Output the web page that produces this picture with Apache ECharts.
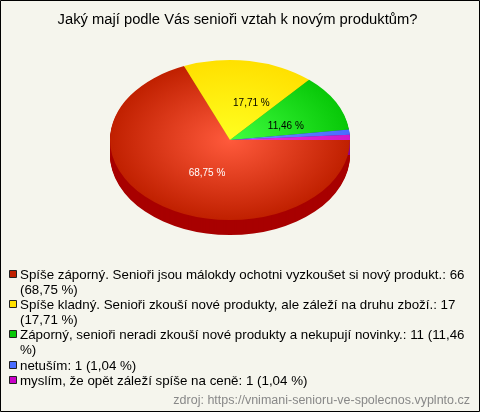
<!DOCTYPE html>
<html>
<head>
<meta charset="utf-8">
<style>html,body{margin:0;padding:0;background:#f5f5ed}#c{width:480px;height:412px}</style>
<script src="https://cdn.jsdelivr.net/npm/echarts@6/dist/echarts.min.js"></script>
</head>
<body>
<div id="c"></div>
<script>
const titleText = 'Jaký mají podle Vás senioři vztah k novým produktům?';
const sourceText = 'zdroj: https://vnimani-senioru-ve-spolecnos.vyplnto.cz';
const values = [66, 17, 11, 1, 1];
const sliceLabels = ['68,75 %', '17,71 %', '11,46 %', '', ''];
const legendLines = [
  ['Spíše záporný. Senioři jsou málokdy ochotni vyzkoušet si nový produkt.: 66', '(68,75 %)'],
  ['Spíše kladný. Senioři zkouší nové produkty, ale záleží na druhu zboží.: 17', '(17,71 %)'],
  ['Záporný, senioři neradi zkouší nové produkty a nekupují novinky.: 11 (11,46', '%)'],
  ['netuším: 1 (1,04 %)'],
  ['myslím, že opět záleží spíše na ceně: 1 (1,04 %)']
];

const edgeColors = ['#c02000', '#ffe000', '#08c808', '#4a6cff', '#d018c8'];
const midColors = ['#ff5a3c', '#ffff20', '#40ff40', '#6a8cff', '#f030e0'];
const legendColors = ['#c02000', '#ffe000', '#08c808', '#4a6cff', '#c800c8'];
const sideColors = ['#a80000', '#b09a00', '#008000', '#2040b0', '#900090'];
const labelColors = ['#fff', '#000', '#000', '#000', '#000'];
const labelShift = [[9, 1], [12, 1], [5, 4], [0, 0], [0, 0]];

const CX = 230, CY = 140, RX = 120, RY = 80, DEPTH = 15;
const total = values.reduce((a, b) => a + b, 0);
const FONT = '"Liberation Sans", Arial, sans-serif';

function angles(i) {
  let before = 0;
  for (let k = 0; k < i; k++) before += values[k];
  return [before / total * Math.PI * 2, (before + values[i]) / total * Math.PI * 2];
}

function renderSide(params, api) {
  const i = params.dataIndex;
  const a = angles(i);
  const children = [];
  for (let d = DEPTH; d >= 1; d--) {
    children.push({
      type: 'sector', x: CX, y: CY + d, scaleY: RY / RX,
      shape: { cx: 0, cy: 0, r: RX, r0: 0, startAngle: a[0], endAngle: a[1], clockwise: true },
      style: { fill: sideColors[i] }
    });
  }
  return { type: 'group', children };
}

function renderTop(params, api) {
  const i = params.dataIndex;
  const a = angles(i);
  api.value(0);
  return {
    type: 'sector', x: CX, y: CY, scaleY: RY / RX,
    shape: { cx: 0, cy: 0, r: RX, r0: 0, startAngle: a[0], endAngle: a[1], clockwise: true },
    style: {
      fill: new echarts.graphic.RadialGradient(0, 0, RX, [
        { offset: 0, color: midColors[i] },
        { offset: 1, color: edgeColors[i] }
      ], true)
    }
  };
}

function renderLabel(params, api) {
  const i = params.dataIndex;
  if (!sliceLabels[i]) return null;
  const a = angles(i);
  const mid = (a[0] + a[1]) / 2;
  return {
    type: 'text',
    x: CX + Math.cos(mid) * RX * 0.48 + labelShift[i][0],
    y: CY + Math.sin(mid) * RY * 0.48 + labelShift[i][1],
    style: {
      text: sliceLabels[i], fill: labelColors[i],
      font: '10px ' + FONT, align: 'center', verticalAlign: 'middle'
    }
  };
}

const graphicEls = [
  { type: 'rect', z: -10, silent: true, shape: { x: 0.5, y: 0.5, width: 479, height: 411 },
    style: { fill: '#f5f5ed', stroke: '#000', lineWidth: 1 } },
  { type: 'text', x: 237.5, y: 20, style: { text: titleText, font: '14.75px ' + FONT, fill: '#000', align: 'center', verticalAlign: 'middle' } },
  { type: 'text', x: 470, y: 401, style: { text: sourceText, font: '12.5px ' + FONT, fill: '#888', align: 'right', verticalAlign: 'middle' } }
];
let rowY = 274;
legendLines.forEach((lines, i) => {
  graphicEls.push({ type: 'rect', shape: { x: 9.5, y: rowY - 3.5, width: 7, height: 7 },
    style: { fill: legendColors[i], stroke: '#222', lineWidth: 1 } });
  lines.forEach((t) => {
    graphicEls.push({ type: 'text', x: 20, y: rowY + 1, style: { text: t, font: '13.33px ' + FONT, fill: '#000', align: 'left', verticalAlign: 'middle' } });
    rowY += 15;
  });
  if (i === 2) rowY += 1;
});

const chart = echarts.init(document.getElementById('c'), null, { renderer: 'canvas' });
const rows = values.map((v) => [v]);
chart.setOption({
  backgroundColor: '#f5f5ed',
  animation: false,
  graphic: graphicEls,
  series: [
    { type: 'custom', coordinateSystem: 'none', renderItem: renderSide, data: rows, z: 1, silent: true },
    { type: 'custom', coordinateSystem: 'none', renderItem: renderTop, data: rows, z: 2, silent: true },
    { type: 'custom', coordinateSystem: 'none', renderItem: renderLabel, data: rows, z: 3, silent: true }
  ]
});
</script>
</body>
</html>
